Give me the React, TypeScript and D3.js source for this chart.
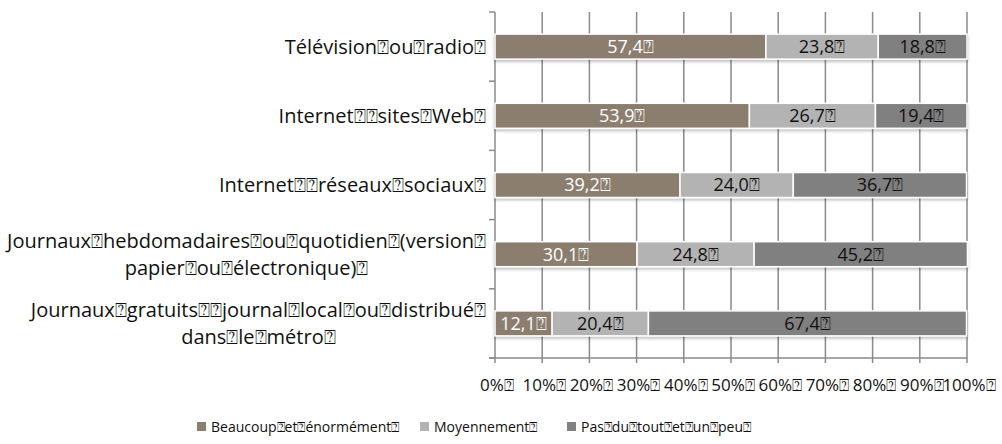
import React, { useEffect, useRef } from "react";
import * as d3 from "d3";

const B = "\u2370";
const categories: string[][] = [
  [`Télévision${B}ou${B}radio${B}`],
  [`Internet${B}${B}sites${B}Web${B}`],
  [`Internet${B}${B}réseaux${B}sociaux${B}`],
  [`Journaux${B}hebdomadaires${B}ou${B}quotidien${B}(version${B}`, `papier${B}ou${B}électronique)${B}`],
  [`Journaux${B}gratuits${B}${B}journal${B}local${B}ou${B}distribué${B}`, `dans${B}le${B}métro${B}`],
];
const beaucoup = [57.4, 53.9, 39.2, 30.1, 12.1];
const moyennement = [23.8, 26.7, 24.0, 24.8, 20.4];
const pasDuTout = [18.8, 19.4, 36.7, 45.2, 67.4];
const seriesNames = [`Beaucoup${B}et${B}énormément${B}`, `Moyennement${B}`, `Pas${B}du${B}tout${B}et${B}un${B}peu${B}`];
const colors = ["#8c7e6e", "#b3b3b3", "#808080"];
const labelColors = ["#ffffff", "#111111", "#111111"];
const ticks = [0, 10, 20, 30, 40, 50, 60, 70, 80, 90, 100];
const tickLabels = ticks.map((t) => `${t}%${B}`);

const FONT = "'Open Sans', sans-serif";

export default function App() {
  const ref = useRef<SVGSVGElement>(null);
  useEffect(() => {
    const svg = d3.select(ref.current);
    svg.selectAll("*").remove();
    const x = d3.scaleLinear().domain([0, 100]).range([495, 967]);
    const idx = categories.map((_, i) => String(i));
    const band = d3.scaleBand().domain(idx).range([12, 358]);
    const barH = 25;
    const grid = "#8a8a8a";

    const defs = svg.append("defs");
    const f = defs.append("filter").attr("id", "sh").attr("x", "-5%").attr("y", "-20%").attr("width", "110%").attr("height", "160%");
    f.append("feDropShadow").attr("dx", 0).attr("dy", 2).attr("stdDeviation", 1.5).attr("flood-color", "#000").attr("flood-opacity", 0.25);

    // gridlines
    svg.append("g").selectAll("line").data(ticks.slice(1)).join("line")
      .attr("x1", (d) => x(d)).attr("x2", (d) => x(d))
      .attr("y1", 12).attr("y2", 363)
      .attr("stroke", grid).attr("stroke-width", 1.5);
    // axes
    svg.append("line").attr("x1", x(0)).attr("x2", x(0)).attr("y1", 12).attr("y2", 363).attr("stroke", grid).attr("stroke-width", 1.5);
    svg.append("line").attr("x1", 489).attr("x2", x(100)).attr("y1", 358).attr("y2", 358).attr("stroke", grid).attr("stroke-width", 1.5);
    const bounds = idx.map((d) => band(d)!).concat([358]);
    svg.append("g").selectAll("line").data(bounds).join("line")
      .attr("x1", 489).attr("x2", x(0)).attr("y1", (d) => d).attr("y2", (d) => d)
      .attr("stroke", grid).attr("stroke-width", 1.5);

    const series = [beaucoup, moyennement, pasDuTout];
    const stacked = categories.map((_, i) => {
      let acc = 0;
      return series.map((s, k) => {
        const r = { k, i, x0: acc, x1: acc + s[i], v: s[i] };
        acc += s[i];
        return r;
      });
    }).flat();

    const bars = svg.append("g").attr("filter", "url(#sh)");
    bars.selectAll("rect").data(stacked).join("rect")
      .attr("x", (d) => x(d.x0)).attr("width", (d) => x(d.x1) - x(d.x0))
      .attr("y", (d) => band(String(d.i))! + band.bandwidth() / 2 - barH / 2)
      .attr("height", barH)
      .attr("fill", (d) => colors[d.k]).attr("stroke", "#fff").attr("stroke-width", 1.5);

    svg.append("g").selectAll("text").data(stacked).join("text")
      .attr("x", (d) => (x(d.x0) + x(d.x1)) / 2)
      .attr("y", (d) => band(String(d.i))! + band.bandwidth() / 2)
      .attr("dy", "0.35em")
      .attr("text-anchor", "middle")
      .attr("font-family", FONT).attr("font-size", 18)
      .attr("fill", (d) => labelColors[d.k])
      .text((d) => d.v.toFixed(1).replace(".", ",") + B);

    // category labels
    const lh = 27;
    categories.forEach((lines, i) => {
      const cy = band(String(i))! + band.bandwidth() / 2;
      const g = svg.append("g");
      const texts = lines.map((l, j) =>
        g.append("text").attr("font-family", FONT).attr("font-size", 20).attr("fill", "#111")
          .attr("y", cy + (j - (lines.length - 1) / 2) * lh).attr("dy", "0.35em").attr("text-anchor", "middle").text(l)
      );
      const widths = texts.map((t) => (t.node() as SVGTextElement).getComputedTextLength());
      const maxW = Math.max(...widths);
      const cx = 486 - maxW / 2;
      texts.forEach((t) => t.attr("x", cx));
    });

    // tick labels
    svg.append("g").selectAll("text").data(ticks).join("text")
      .attr("x", (d) => x(d) + 2).attr("y", 385).attr("dy", "0.35em")
      .attr("text-anchor", "middle").attr("font-family", FONT).attr("font-size", 17).attr("fill", "#111")
      .text((_, i) => tickLabels[i]);

    // legend
    const legX = [197, 420, 567];
    seriesNames.forEach((n, k) => {
      svg.append("rect").attr("x", legX[k]).attr("y", 422).attr("width", 9).attr("height", 9).attr("fill", colors[k]);
      svg.append("text").attr("x", legX[k] + 14).attr("y", 427).attr("dy", "0.35em")
        .attr("font-family", FONT).attr("font-size", 14).attr("fill", "#111").text(n);
    });
  }, []);
  return (
    <svg ref={ref} width={1002} height={444} style={{ position: "absolute", left: 0, top: 0, background: "#fff" }} />
  );
}
